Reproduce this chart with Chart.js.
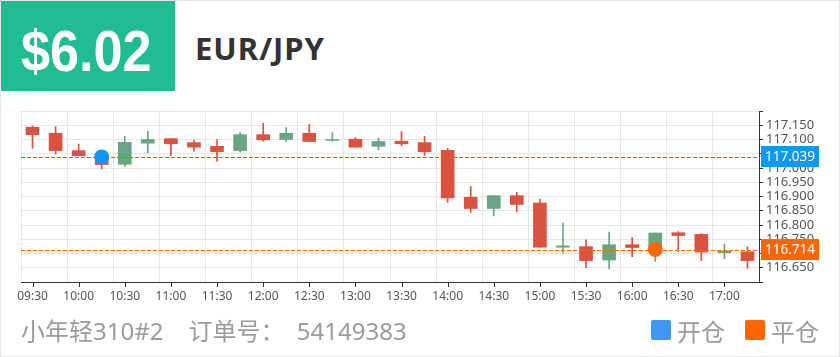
<!DOCTYPE html>
<html>
<head>
<meta charset="utf-8">
<script src="https://cdn.jsdelivr.net/npm/chart.js@4.4.1/dist/chart.umd.min.js"></script>
<style>
  html, body { margin: 0; padding: 0; background: #fff; }
  body { width: 840px; height: 357px; position: relative; overflow: hidden; font-family: "Noto Sans", "Noto Sans CJK SC", sans-serif; }
  .frame { position: absolute; left: 0; top: 0; width: 840px; height: 357px; border: 1px solid #e6e6e6; box-sizing: border-box; }
  .badge { position: absolute; left: 1px; top: 1px; width: 174px; height: 90px; background: #20bd95; }
  .price { position: absolute; left: 21px; top: 16px; font-family: "Liberation Sans", "Arial", sans-serif; font-weight: bold; font-size: 58px; line-height: 70px; color: #fff; white-space: nowrap; transform: scaleX(0.9); transform-origin: left top; }
  .pair { position: absolute; left: 195px; top: 27px; font-family: "Noto Sans", sans-serif; font-weight: bold; font-size: 31px; line-height: 42px; color: #333; letter-spacing: 1px; white-space: nowrap; }
  .footer { position: absolute; left: 21px; top: 313px; font-size: 24px; line-height: 36px; color: #9b9b9b; white-space: nowrap; font-family: "Noto Sans", "Noto Sans CJK SC", sans-serif; }
  .legend { position: absolute; top: 313px; font-size: 24px; line-height: 36px; color: #9b9b9b; white-space: nowrap; font-family: "Noto Sans CJK SC", sans-serif; }
  .sq { position: absolute; top: 7px; left: 0; width: 20px; height: 20px; border-radius: 2px; }
  .legend span.t { position: absolute; left: 26px; top: 0; }
  canvas { position: absolute; left: 0; top: 0; }
</style>
</head>
<body>
<div class="frame"></div>
<div class="badge"></div>
<div class="price">$6.02</div>
<div class="pair">EUR/JPY</div>
<canvas id="c" width="840" height="357"></canvas>
<div class="footer">小年轻310#2&nbsp;&nbsp;&nbsp;&nbsp;订单号：&nbsp;&nbsp;54149383</div>
<div class="legend" style="left:651px;"><div class="sq" style="background:#3f97f6;"></div><span class="t">开仓</span></div>
<div class="legend" style="left:745px;"><div class="sq" style="background:#ff6600;"></div><span class="t">平仓</span></div>
<script>
const categories = ['09:30','09:45','10:00','10:15','10:30','10:45','11:00','11:15','11:30','11:45','12:00','12:15','12:30','12:45','13:00','13:15','13:30','13:45','14:00','14:15','14:30','14:45','15:00','15:15','15:30','15:45','16:00','16:15','16:30','16:45','17:00','17:15'];
const openPrices  = [117.143,117.122,117.061,117.043,117.013,117.087,117.103,117.089,117.076,117.061,117.117,117.100,117.122,117.097,117.101,117.076,117.094,117.089,117.062,116.897,116.858,116.903,116.877,116.722,116.724,116.677,116.731,116.718,116.773,116.767,116.703,116.706];
const closePrices = [117.117,117.061,117.043,117.012,117.090,117.100,117.085,117.073,117.057,117.117,117.099,117.122,117.093,117.100,117.073,117.093,117.085,117.057,116.895,116.858,116.903,116.872,116.722,116.727,116.675,116.731,116.721,116.772,116.763,116.705,116.709,116.675];
const highPrices  = [117.147,117.145,117.084,117.045,117.111,117.129,117.103,117.098,117.100,117.124,117.157,117.142,117.153,117.125,117.107,117.105,117.128,117.111,117.069,116.935,116.903,116.915,116.891,116.807,116.748,116.775,116.756,116.772,116.777,116.770,116.733,116.724];
const lowPrices   = [117.069,117.049,117.043,116.997,117.006,117.054,117.044,117.059,117.024,117.056,117.094,117.093,117.093,117.094,117.073,117.064,117.078,117.044,116.879,116.844,116.832,116.847,116.722,116.701,116.650,116.646,116.689,116.672,116.707,116.675,116.682,116.648];
const openTime = '10:15';
const openPrice = 117.039;
const closeTime = '16:15';
const closePrice = 116.714;
const yMin = 116.6, yMax = 117.2, yStep = 0.05;

const RED = '#d95340', GREEN = '#6aa583';
const BLUE = '#0b99f8', ORANGE = '#ff6600';
const candleColors = openPrices.map((o, i) => closePrices[i] >= o ? GREEN : RED);

const FONT = '"Noto Sans", sans-serif';

const overlay = {
  id: 'overlay',
  afterDatasetDraw(chart, args) {
    if (args.index !== 0) return;
    const { ctx, chartArea, scales } = chart;
    const lines = [[openPrice, BLUE], [closePrice, ORANGE]];
    ctx.save();
    ctx.lineWidth = 1;
    ctx.setLineDash([4, 2]);
    for (const [v, c] of lines) {
      const y = Math.round(scales.y.getPixelForValue(v)) + 0.5;
      ctx.strokeStyle = c;
      ctx.beginPath();
      ctx.moveTo(chartArea.left, y);
      ctx.lineTo(chartArea.right, y);
      ctx.stroke();
    }
    ctx.restore();
  },
  afterDraw(chart) {
    const { ctx, chartArea, scales } = chart;
    ctx.save();
    ctx.strokeStyle = '#333';
    ctx.lineWidth = 1;
    categories.forEach((c, i) => {
      if (i % 2) return;
      const x = Math.round(scales.x.getPixelForValue(i)) + 0.5;
      ctx.beginPath();
      ctx.moveTo(x, chartArea.bottom);
      ctx.lineTo(x, chartArea.bottom + 5);
      ctx.stroke();
    });
    const boxes = [[openPrice, BLUE], [closePrice, ORANGE]];
    ctx.font = '13.5px ' + FONT;
    ctx.textAlign = 'center';
    ctx.textBaseline = 'middle';
    for (const [v, c] of boxes) {
      const y = scales.y.getPixelForValue(v);
      ctx.fillStyle = c;
      ctx.fillRect(chartArea.right + 2, Math.round(y - 10.5), 58, 21);
      ctx.fillStyle = '#fff';
      ctx.fillText(v.toFixed(3), chartArea.right + 31, y + 0.5);
    }
    ctx.restore();
  }
};

new Chart(document.getElementById('c'), {
  type: 'bar',
  data: {
    labels: categories,
    datasets: [
      {
        label: 'body',
        data: categories.map((c, i) => [openPrices[i], closePrices[i]]),
        backgroundColor: candleColors,
        barThickness: 13,
        grouped: false,
        borderWidth: 0,
        order: 1
      },
      {
        label: 'wick',
        data: categories.map((c, i) => [lowPrices[i], highPrices[i]]),
        backgroundColor: candleColors,
        barThickness: 1,
        grouped: false,
        borderWidth: 0,
        order: 2
      },
      {
        type: 'line',
        label: 'marks',
        data: [{ x: openTime, y: openPrice }, { x: closeTime, y: closePrice }],
        showLine: false,
        pointRadius: 7.5,
        pointHoverRadius: 7.5,
        pointBorderWidth: 0,
        pointBackgroundColor: [BLUE, ORANGE],
        order: 0
      }
    ]
  },
  options: {
    responsive: false,
    animation: false,
    events: [],
    layout: { padding: { left: 21, top: 111, right: 0, bottom: 0 } },
    plugins: { legend: { display: false }, tooltip: { enabled: false } },
    scales: {
      x: {
        type: 'category',
        offset: true,
        afterFit(s) { s.height = 357 - 282; },
        grid: {
          offset: true,
          drawTicks: false,
          color: ctx => (ctx.index % 2 === 0 ? '#e6e6e6' : 'rgba(0,0,0,0)'),
          lineWidth: 1
        },
        border: { color: '#333', width: 1 },
        ticks: {
          autoSkip: false,
          maxRotation: 0,
          padding: 7,
          color: '#555',
          font: { family: FONT, size: 12 },
          callback: (v, i) => (i % 2 === 0 ? categories[i] : '')
        }
      },
      y: {
        position: 'right',
        min: yMin,
        max: yMax,
        afterFit(s) { s.width = 840 - 759; },
        grid: { color: '#e6e6e6', tickColor: '#333', tickLength: 4 },
        border: { color: '#333', width: 1 },
        ticks: {
          stepSize: yStep,
          maxTicksLimit: 30,
          autoSkip: false,
          padding: 3,
          color: '#555',
          font: { family: FONT, size: 13 },
          callback: v => (Math.abs(v - yMin) < 1e-6 || Math.abs(v - yMax) < 1e-6 ? '' : Number(v).toFixed(3))
        }
      }
    }
  },
  plugins: [overlay]
});
</script>
</body>
</html>
